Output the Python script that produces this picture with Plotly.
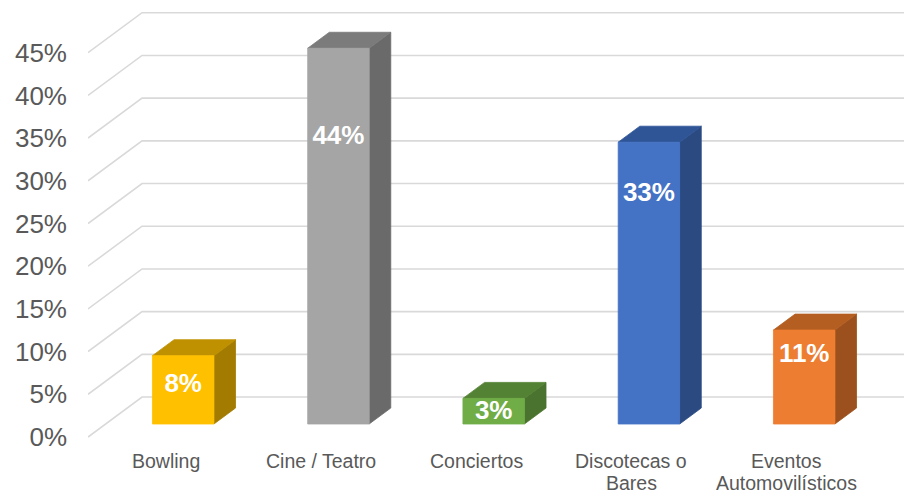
import plotly.graph_objects as go

# Data
categories = ["Bowling", "Cine / Teatro", "Conciertos", "Discotecas o\nBares", "Eventos\nAutomovilísticos"]
values = [8, 44, 3, 33, 11]
label_text = ["8%", "44%", "3%", "33%", "11%"]
y_ticks = [0, 5, 10, 15, 20, 25, 30, 35, 40, 45]

# Face colours per bar: front, top, side
front_colors = ["#FFC000", "#A5A5A5", "#70AD47", "#4472C4", "#ED7D31"]
top_colors = ["#BF9000", "#7B7B7B", "#548235", "#2F5597", "#B45E22"]
side_colors = ["#A37B00", "#6A6A6A", "#4A732F", "#2B4A82", "#9C501D"]

# Height (in value units, on the bar's front face) where each value label sits
label_at = [4.5, 33.6, 1.35, 26.9, 8.0]

# Oblique projection: full floor depth shifts right by DX categories and up by DY value units
DX = 0.348
DY = 4.68
BAR_W = 0.396
DEPTH_FRONT = 0.325
DEPTH_BACK = 0.725
X_LO = -0.5
PX_PER_UNIT = 8.54          # vertical pixels per percentage point
Y_RANGE = [-8 / PX_PER_UNIT, 437 / PX_PER_UNIT]
CAT_FIRST_LINE = -2.8       # category label first line, value units below the floor front
CAT_LINE_STEP = 21.7 / PX_PER_UNIT


def proj(x, y, d):
    return x + d * DX, y + d * DY


def poly(pts):
    xs, ys = zip(*pts)
    return list(xs) + [xs[0]], list(ys) + [ys[0]]


def to_paper_y(v):
    return (v - Y_RANGE[0]) / (Y_RANGE[1] - Y_RANGE[0])


fig = go.Figure()

# Gridlines: diagonal along the left side wall, then across the back wall
n = len(categories)
for v in y_ticks:
    x0, y0 = proj(X_LO, v, 0)
    x1, y1 = proj(X_LO, v, 1)
    x2, y2 = proj(X_LO + n, v, 1)
    fig.add_trace(go.Scatter(
        x=[x0, x1, x2], y=[y0, y1, y2], mode="lines",
        line=dict(color="#D9D9D9", width=1.6),
        hoverinfo="skip", showlegend=False,
    ))

# 3D boxes
for i, v in enumerate(values):
    xl = i - BAR_W / 2
    xr = i + BAR_W / 2
    f, b = DEPTH_FRONT, DEPTH_BACK
    side = [proj(xr, 0, f), proj(xr, 0, b), proj(xr, v, b), proj(xr, v, f)]
    top = [proj(xl, v, f), proj(xr, v, f), proj(xr, v, b), proj(xl, v, b)]
    front = [proj(xl, 0, f), proj(xr, 0, f), proj(xr, v, f), proj(xl, v, f)]
    for pts, col in ((side, side_colors[i]), (top, top_colors[i]), (front, front_colors[i])):
        xs, ys = poly(pts)
        fig.add_trace(go.Scatter(
            x=xs, y=ys, mode="lines", fill="toself", fillcolor=col,
            line=dict(color=col, width=0.8),
            hoverinfo="skip", showlegend=False,
        ))

# Value labels on the front faces
lx = [proj(i, 0, DEPTH_FRONT)[0] for i in range(n)]
ly = [proj(0, h, DEPTH_FRONT)[1] for h in label_at]
fig.add_trace(go.Scatter(
    x=lx, y=ly, mode="text", text=label_text,
    textfont=dict(family="Liberation Sans, Arial, sans-serif", size=26, color="#FFFFFF", weight="bold"),
    textposition="middle center", hoverinfo="skip", showlegend=False,
))

# Category labels under the floor front edge, one annotation per line
for i, cat in enumerate(categories):
    for k, line in enumerate(cat.split("\n")):
        fig.add_annotation(
            x=i, y=to_paper_y(CAT_FIRST_LINE - k * CAT_LINE_STEP), xref="x", yref="paper",
            text=line, showarrow=False, xanchor="center", yanchor="middle",
            font=dict(family="Liberation Sans, Arial, sans-serif", size=19.5, color="#595959"),
        )

fig.update_layout(
    width=904, height=496, autosize=False,
    margin=dict(l=88, r=0, t=0, b=51),
    paper_bgcolor="#FFFFFF", plot_bgcolor="#FFFFFF",
    showlegend=False,
    font=dict(family="Liberation Sans, Arial, sans-serif", color="#595959"),
    xaxis=dict(
        range=[X_LO, X_LO + 816 / 155.25],
        showticklabels=False,
        showgrid=False, zeroline=False, showline=False, ticks="",
        automargin=False,
    ),
    yaxis=dict(
        range=Y_RANGE,
        tickmode="array", tickvals=y_ticks, ticktext=[f"{t}%" for t in y_ticks],
        tickfont=dict(size=26, color="#595959"),
        showgrid=False, zeroline=False, showline=False, ticks="",
        ticklabelstandoff=20, automargin=False,
    ),
)

fig.write_html("out.html")
